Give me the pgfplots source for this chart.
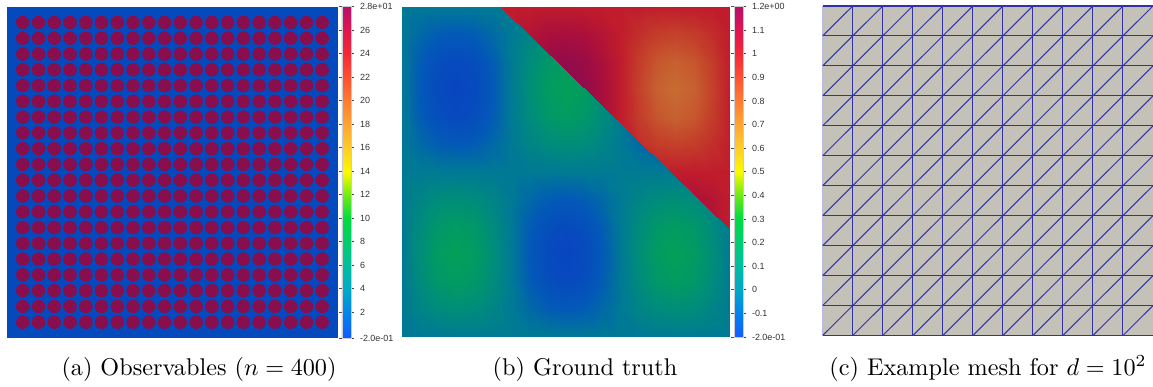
\documentclass[border=0pt]{standalone}
\usepackage{pgfplots}
\pgfplotsset{compat=1.18}
\usepackage{pgfplotstable}
\usepackage{fontspec}
\newfontfamily\pvfont{Liberation Sans}
\definecolor{bgblue}{RGB}{5,74,189}
\definecolor{disc}{RGB}{136,14,77}
\definecolor{meshgray}{RGB}{196,193,185}
\definecolor{meshline}{RGB}{50,50,168}
\pgfplotsset{
 colormap={pvbright}{rgb255(0cm)=(20,90,255) rgb255(0.71cm)=(0,130,240) rgb255(1.43cm)=(0,168,200) rgb255(2.14cm)=(0,190,160) rgb255(2.86cm)=(0,205,115) rgb255(3.6cm)=(0,220,65) rgb255(4.3cm)=(110,235,20) rgb255(5cm)=(250,250,0) rgb255(5.71cm)=(255,205,40) rgb255(6.43cm)=(255,165,50) rgb255(7.14cm)=(255,125,50) rgb255(7.86cm)=(255,80,50) rgb255(8.57cm)=(245,40,55) rgb255(9.29cm)=(225,20,80) rgb255(10cm)=(182,15,105)},
 colormap={pvdark}{rgb255(0cm)=(8,68,192) rgb255(0.71cm)=(3,88,184) rgb255(1.43cm)=(0,122,148) rgb255(2.14cm)=(0,142,120) rgb255(2.86cm)=(3,160,88) rgb255(3.6cm)=(0,167,49) rgb255(4.3cm)=(84,179,15) rgb255(5cm)=(190,190,0) rgb255(5.71cm)=(198,160,30) rgb255(6.43cm)=(200,128,45) rgb255(7.14cm)=(200,108,50) rgb255(7.86cm)=(196,65,42) rgb255(8.57cm)=(192,28,44) rgb255(9.29cm)=(168,14,62) rgb255(10cm)=(138,11,80)},
 pvcb/.style={
   width=3.75pt,
   tick align=outside, major tick length=1.3pt,
   ytick style={black!70, line width=0.35pt},
   yticklabel style={font=\pvfont\fontsize{3.7}{4}\selectfont, text=black!80, inner sep=0pt, xshift=2.2pt},
   axis line style={draw=gray!40, line width=0.3pt},
 },
 noframe/.style={scale only axis, axis line style={draw=none}, xtick=\empty, ytick=\empty, ztick=\empty},
 ml/.style={meshline, line width=0.42pt, no markers, solid},
}
\pgfplotstableread{
x y z
0 0 0
1 0 0
2 0 0
3 0 0
4 0 0
5 0 0
6 0 0
7 0 0
8 0 0
9 0 0
10 0 0
11 0 0
12 0 0
13 0 0
14 0 0
15 0 0
16 0 0
17 0 0
18 0 0
0 1 0
1 1 0.05
2 1 0.0866
3 1 0.1
4 1 0.0866
5 1 0.05
6 1 0
7 1 -0.05
8 1 -0.0866
9 1 -0.1
10 1 -0.0866
11 1 -0.05
12 1 0
13 1 0.05
14 1 0.0866
15 1 0.1
16 1 0.0866
17 1 0.05
18 1 0
0 2 0
1 2 0.0866
2 2 0.15
3 2 0.1732
4 2 0.15
5 2 0.0866
6 2 0
7 2 -0.0866
8 2 -0.15
9 2 -0.1732
10 2 -0.15
11 2 -0.0866
12 2 0
13 2 0.0866
14 2 0.15
15 2 0.1732
16 2 0.15
17 2 0.0866
18 2 0
0 3 0
1 3 0.1
2 3 0.1732
3 3 0.2
4 3 0.1732
5 3 0.1
6 3 0
7 3 -0.1
8 3 -0.1732
9 3 -0.2
10 3 -0.1732
11 3 -0.1
12 3 0
13 3 0.1
14 3 0.1732
15 3 0.2
16 3 0.1732
17 3 0.1
18 3 0
0 4 0
1 4 0.0866
2 4 0.15
3 4 0.1732
4 4 0.15
5 4 0.0866
6 4 0
7 4 -0.0866
8 4 -0.15
9 4 -0.1732
10 4 -0.15
11 4 -0.0866
12 4 0
13 4 0.0866
14 4 0.15
15 4 0.1732
16 4 0.15
17 4 0.0866
18 4 0
0 5 0
1 5 0.05
2 5 0.0866
3 5 0.1
4 5 0.0866
5 5 0.05
6 5 0
7 5 -0.05
8 5 -0.0866
9 5 -0.1
10 5 -0.0866
11 5 -0.05
12 5 0
13 5 0.05
14 5 0.0866
15 5 0.1
16 5 0.0866
17 5 0.05
18 5 0
0 6 0
1 6 0
2 6 0
3 6 0
4 6 0
5 6 0
6 6 0
7 6 0
8 6 0
9 6 0
10 6 0
11 6 0
12 6 0
13 6 0
14 6 0
15 6 0
16 6 0
17 6 0
18 6 0
0 7 0
1 7 -0.05
2 7 -0.0866
3 7 -0.1
4 7 -0.0866
5 7 -0.05
6 7 0
7 7 0.05
8 7 0.0866
9 7 0.1
10 7 0.0866
11 7 0.05
12 7 0
13 7 -0.05
14 7 -0.0866
15 7 -0.1
16 7 -0.0866
17 7 -0.05
18 7 0
0 8 0
1 8 -0.0866
2 8 -0.15
3 8 -0.1732
4 8 -0.15
5 8 -0.0866
6 8 0
7 8 0.0866
8 8 0.15
9 8 0.1732
10 8 0.15
11 8 0.0866
12 8 0
13 8 -0.0866
14 8 -0.15
15 8 -0.1732
16 8 -0.15
17 8 -0.0866
18 8 0
0 9 0
1 9 -0.1
2 9 -0.1732
3 9 -0.2
4 9 -0.1732
5 9 -0.1
6 9 0
7 9 0.1
8 9 0.1732
9 9 0.2
10 9 0.1732
11 9 0.1
12 9 0
13 9 -0.1
14 9 -0.1732
15 9 -0.2
16 9 -0.1732
17 9 -0.1
18 9 0
0 10 0
1 10 -0.0866
2 10 -0.15
3 10 -0.1732
4 10 -0.15
5 10 -0.0866
6 10 0
7 10 0.0866
8 10 0.15
9 10 0.1732
10 10 0.15
11 10 0.0866
12 10 0
13 10 -0.0866
14 10 -0.15
15 10 -0.1732
16 10 -0.15
17 10 -0.0866
18 10 0
0 11 0
1 11 -0.05
2 11 -0.0866
3 11 -0.1
4 11 -0.0866
5 11 -0.05
6 11 0
7 11 0.05
8 11 0.0866
9 11 0.1
10 11 0.0866
11 11 0.05
12 11 0
13 11 -0.05
14 11 -0.0866
15 11 -0.1
16 11 -0.0866
17 11 -0.05
18 11 0
0 12 0
1 12 0
2 12 0
3 12 0
4 12 0
5 12 0
6 12 0
7 12 0
8 12 0
9 12 0
10 12 0
11 12 0
12 12 0
13 12 0
14 12 0
15 12 0
16 12 0
17 12 0
18 12 0
}\fielddata
\begin{document}
\begin{tikzpicture}
\useasboundingbox (0pt,0pt) rectangle (476.42pt,-159.91pt);
% ---------------- (a) ----------------
\begin{axis}[noframe, at={(2.892pt,-2.768pt)}, anchor=north west,
  width=136.77pt, height=136.89pt,
  xmin=0, xmax=21, ymin=0, ymax=21,
  colormap name=pvbright, point meta min=-0.2, point meta max=28,
  colorbar, colorbar shift/.style={xshift=1.65pt},
  colorbar style={pvcb, at={(parent axis.north east)}, anchor=north west,
    ytick={-0.2,2,4,6,8,10,12,14,16,18,20,22,24,26,28},
    yticklabels={-2.0e-01,2,4,6,8,10,12,14,16,18,20,22,24,26,2.8e+01}},
]
\addplot[fill=bgblue, draw=none] coordinates {(0,0) (21,0) (21,21) (0,21)} --cycle;
\addplot[only marks, color=disc, mark=*, mark size=2.72pt, mark options={draw=disc, fill=disc, line width=0.1pt}] coordinates {
(1,1) (2,1) (3,1) (4,1) (5,1) (6,1) (7,1) (8,1) (9,1) (10,1) (11,1) (12,1) (13,1) (14,1) (15,1) (16,1) (17,1) (18,1) (19,1) (20,1)
(1,2) (2,2) (3,2) (4,2) (5,2) (6,2) (7,2) (8,2) (9,2) (10,2) (11,2) (12,2) (13,2) (14,2) (15,2) (16,2) (17,2) (18,2) (19,2) (20,2)
(1,3) (2,3) (3,3) (4,3) (5,3) (6,3) (7,3) (8,3) (9,3) (10,3) (11,3) (12,3) (13,3) (14,3) (15,3) (16,3) (17,3) (18,3) (19,3) (20,3)
(1,4) (2,4) (3,4) (4,4) (5,4) (6,4) (7,4) (8,4) (9,4) (10,4) (11,4) (12,4) (13,4) (14,4) (15,4) (16,4) (17,4) (18,4) (19,4) (20,4)
(1,5) (2,5) (3,5) (4,5) (5,5) (6,5) (7,5) (8,5) (9,5) (10,5) (11,5) (12,5) (13,5) (14,5) (15,5) (16,5) (17,5) (18,5) (19,5) (20,5)
(1,6) (2,6) (3,6) (4,6) (5,6) (6,6) (7,6) (8,6) (9,6) (10,6) (11,6) (12,6) (13,6) (14,6) (15,6) (16,6) (17,6) (18,6) (19,6) (20,6)
(1,7) (2,7) (3,7) (4,7) (5,7) (6,7) (7,7) (8,7) (9,7) (10,7) (11,7) (12,7) (13,7) (14,7) (15,7) (16,7) (17,7) (18,7) (19,7) (20,7)
(1,8) (2,8) (3,8) (4,8) (5,8) (6,8) (7,8) (8,8) (9,8) (10,8) (11,8) (12,8) (13,8) (14,8) (15,8) (16,8) (17,8) (18,8) (19,8) (20,8)
(1,9) (2,9) (3,9) (4,9) (5,9) (6,9) (7,9) (8,9) (9,9) (10,9) (11,9) (12,9) (13,9) (14,9) (15,9) (16,9) (17,9) (18,9) (19,9) (20,9)
(1,10) (2,10) (3,10) (4,10) (5,10) (6,10) (7,10) (8,10) (9,10) (10,10) (11,10) (12,10) (13,10) (14,10) (15,10) (16,10) (17,10) (18,10) (19,10) (20,10)
(1,11) (2,11) (3,11) (4,11) (5,11) (6,11) (7,11) (8,11) (9,11) (10,11) (11,11) (12,11) (13,11) (14,11) (15,11) (16,11) (17,11) (18,11) (19,11) (20,11)
(1,12) (2,12) (3,12) (4,12) (5,12) (6,12) (7,12) (8,12) (9,12) (10,12) (11,12) (12,12) (13,12) (14,12) (15,12) (16,12) (17,12) (18,12) (19,12) (20,12)
(1,13) (2,13) (3,13) (4,13) (5,13) (6,13) (7,13) (8,13) (9,13) (10,13) (11,13) (12,13) (13,13) (14,13) (15,13) (16,13) (17,13) (18,13) (19,13) (20,13)
(1,14) (2,14) (3,14) (4,14) (5,14) (6,14) (7,14) (8,14) (9,14) (10,14) (11,14) (12,14) (13,14) (14,14) (15,14) (16,14) (17,14) (18,14) (19,14) (20,14)
(1,15) (2,15) (3,15) (4,15) (5,15) (6,15) (7,15) (8,15) (9,15) (10,15) (11,15) (12,15) (13,15) (14,15) (15,15) (16,15) (17,15) (18,15) (19,15) (20,15)
(1,16) (2,16) (3,16) (4,16) (5,16) (6,16) (7,16) (8,16) (9,16) (10,16) (11,16) (12,16) (13,16) (14,16) (15,16) (16,16) (17,16) (18,16) (19,16) (20,16)
(1,17) (2,17) (3,17) (4,17) (5,17) (6,17) (7,17) (8,17) (9,17) (10,17) (11,17) (12,17) (13,17) (14,17) (15,17) (16,17) (17,17) (18,17) (19,17) (20,17)
(1,18) (2,18) (3,18) (4,18) (5,18) (6,18) (7,18) (8,18) (9,18) (10,18) (11,18) (12,18) (13,18) (14,18) (15,18) (16,18) (17,18) (18,18) (19,18) (20,18)
(1,19) (2,19) (3,19) (4,19) (5,19) (6,19) (7,19) (8,19) (9,19) (10,19) (11,19) (12,19) (13,19) (14,19) (15,19) (16,19) (17,19) (18,19) (19,19) (20,19)
(1,20) (2,20) (3,20) (4,20) (5,20) (6,20) (7,20) (8,20) (9,20) (10,20) (11,20) (12,20) (13,20) (14,20) (15,20) (16,20) (17,20) (18,20) (19,20) (20,20)
};
\end{axis}
% ---------------- (b) lower field ----------------
\begin{axis}[noframe, at={(165.98pt,-2.686pt)}, anchor=north west,
  width=135.74pt, height=136.56pt, view={0}{90},
  xmin=0, xmax=18, ymin=0, ymax=12,
  colormap name=pvbright, point meta min=-0.2, point meta max=1.2,
  colorbar, colorbar shift/.style={xshift=1.57pt},
  colorbar style={pvcb, at={(parent axis.north east)}, anchor=north west,
    ytick={-0.2,-0.1,0,0.1,0.2,0.3,0.4,0.5,0.6,0.7,0.8,0.9,1,1.1,1.2},
    yticklabels={-2.0e-01,-0.1,0,0.1,0.2,0.3,0.4,0.5,0.6,0.7,0.8,0.9,1,1.1,1.2e+00}},
]
\addplot3[surf, shader=interp, colormap name=pvdark, point meta=\thisrow{z}, mesh/rows=13, mesh/cols=19] table[x=x,y=y,z=z] {\fielddata};
\end{axis}
% ---------------- (b) upper region (value + 1) ----------------
\begin{scope}
\clip (204.80pt,-0.843pt) -- (303.62pt,-0.843pt) -- (303.62pt,-96.71pt) -- cycle;
\begin{axis}[noframe, at={(165.98pt,-2.686pt)}, anchor=north west,
  width=135.74pt, height=136.56pt, view={0}{90},
  xmin=0, xmax=18, ymin=0, ymax=12,
  colormap name=pvdark, point meta min=-1.2, point meta max=0.2,
]
\addplot3[surf, shader=interp, point meta=\thisrow{z}, mesh/rows=13, mesh/cols=19] table[x=x,y=y,z=z] {\fielddata};
\end{axis}
\end{scope}
% ---------------- (c) mesh ----------------
\begin{axis}[noframe, at={(339.94pt,-2.479pt)}, anchor=north west,
  width=136.48pt, height=136.15pt,
  xmin=0, xmax=11, ymin=0, ymax=11,
]
\addplot[fill=meshgray, draw=none] coordinates {(0,0) (11,0) (11,11) (0,11)} --cycle;
\addplot[ml] coordinates {(0,0) (0,11)};
\addplot[ml] coordinates {(1,0) (1,11)};
\addplot[ml] coordinates {(2,0) (2,11)};
\addplot[ml] coordinates {(3,0) (3,11)};
\addplot[ml] coordinates {(4,0) (4,11)};
\addplot[ml] coordinates {(5,0) (5,11)};
\addplot[ml] coordinates {(6,0) (6,11)};
\addplot[ml] coordinates {(7,0) (7,11)};
\addplot[ml] coordinates {(8,0) (8,11)};
\addplot[ml] coordinates {(9,0) (9,11)};
\addplot[ml] coordinates {(10,0) (10,11)};
\addplot[ml] coordinates {(11,0) (11,11)};
\addplot[ml] coordinates {(0,0) (11,0)};
\addplot[ml] coordinates {(0,1) (11,1)};
\addplot[ml] coordinates {(0,2) (11,2)};
\addplot[ml] coordinates {(0,3) (11,3)};
\addplot[ml] coordinates {(0,4) (11,4)};
\addplot[ml] coordinates {(0,5) (11,5)};
\addplot[ml] coordinates {(0,6) (11,6)};
\addplot[ml] coordinates {(0,7) (11,7)};
\addplot[ml] coordinates {(0,8) (11,8)};
\addplot[ml] coordinates {(0,9) (11,9)};
\addplot[ml] coordinates {(0,10) (11,10)};
\addplot[ml] coordinates {(0,11) (11,11)};
\addplot[ml] coordinates {(0,0) (11,11)};
\addplot[ml] coordinates {(1,0) (11,10)};
\addplot[ml] coordinates {(2,0) (11,9)};
\addplot[ml] coordinates {(3,0) (11,8)};
\addplot[ml] coordinates {(4,0) (11,7)};
\addplot[ml] coordinates {(5,0) (11,6)};
\addplot[ml] coordinates {(6,0) (11,5)};
\addplot[ml] coordinates {(7,0) (11,4)};
\addplot[ml] coordinates {(8,0) (11,3)};
\addplot[ml] coordinates {(9,0) (11,2)};
\addplot[ml] coordinates {(10,0) (11,1)};
\addplot[ml] coordinates {(0,1) (10,11)};
\addplot[ml] coordinates {(0,2) (9,11)};
\addplot[ml] coordinates {(0,3) (8,11)};
\addplot[ml] coordinates {(0,4) (7,11)};
\addplot[ml] coordinates {(0,5) (6,11)};
\addplot[ml] coordinates {(0,6) (5,11)};
\addplot[ml] coordinates {(0,7) (4,11)};
\addplot[ml] coordinates {(0,8) (3,11)};
\addplot[ml] coordinates {(0,9) (2,11)};
\addplot[ml] coordinates {(0,10) (1,11)};
\end{axis}
% ---------------- captions ----------------
\node[anchor=base, inner sep=0pt] at (82.23pt,-155.24pt) {(a) Observables ($n=400$)};
\node[anchor=base, inner sep=0pt] at (241.72pt,-155.24pt) {(b) Ground truth};
\node[anchor=base, inner sep=0pt] at (408.24pt,-155.24pt) {(c) Example mesh for $d=10^2$};
\end{tikzpicture}
\end{document}
